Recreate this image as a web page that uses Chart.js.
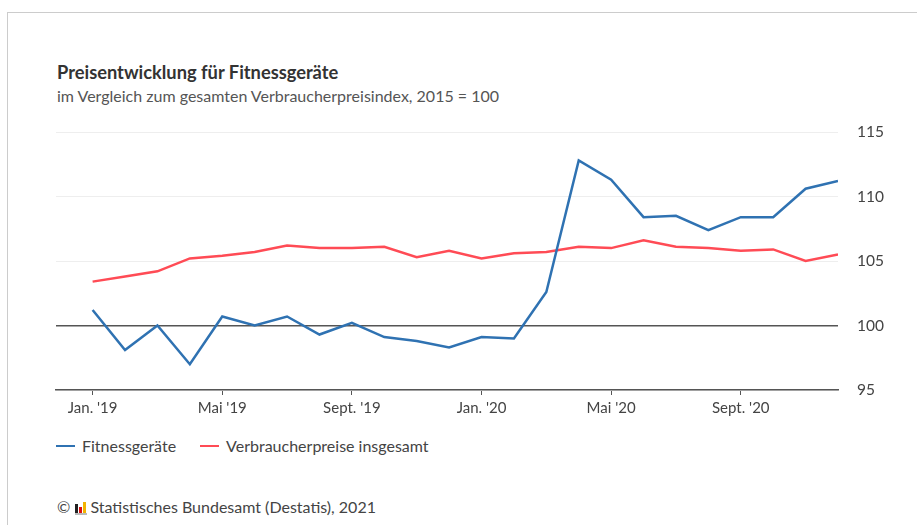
<!doctype html>
<html lang="de">
  <head>
    <meta charset="UTF-8" />
    <title>Preisentwicklung für Fitnessgeräte</title>
    <script src="https://cdn.jsdelivr.net/npm/chart.js"></script>
    <style>
      body { margin: 0; background: #fff; font-family: Lato, 'Open Sans', sans-serif; color: #444; }
      #frame { position: absolute; left: 7px; top: 12px; right: 0; bottom: 0; border-left: 1px solid #ccc; border-top: 1px solid #ccc; }
      #wrap { position: absolute; left: 0; top: 0; width: 917px; height: 525px; }
      h1 { position: absolute; left: 57px; top: 61px; margin: 0; font-size: 18.3px; font-weight: 700; color: #333; }
      .sub { position: absolute; left: 57px; top: 86px; margin: 0; font-size: 16px; color: #555; }
      #legend { position: absolute; left: 56px; top: 436px; font-size: 16px; color: #444; display: flex; }
      #legend span.item { display: flex; align-items: center; margin-right: 24px; }
      #legend span.sw { display: inline-block; width: 19px; height: 2px; margin-right: 7px; }
      .src { position: absolute; left: 57px; top: 497px; font-size: 16px; color: #444; }
      .logo { display: inline-flex; align-items: flex-end; height: 11px; border-bottom: 2px solid #bbb; margin: 0 3px 0 1px; }
      .logo i { display: inline-block; width: 3px; margin-right: 1px; }
      canvas { position: absolute; left: 0; top: 0; }
    </style>
  </head>
  <body>
    <div id="frame"></div>
    <div id="wrap">
      <h1>Preisentwicklung für Fitnessgeräte</h1>
      <p class="sub">im Vergleich zum gesamten Verbraucherpreisindex, 2015 = 100</p>
      <div id="legend"></div>
      <div class="src">© <span class="logo"><i style="height:9px;background:#222"></i><i style="height:6px;background:#d11"></i><i style="height:11px;background:#f2b400"></i></span>Statistisches Bundesamt (Destatis), 2021</div>
      <canvas id="myChart" width="917" height="525"></canvas>
    </div>
    <script>
      const months = ['Jan. \'19', 'Feb. \'19', 'März \'19', 'Apr. \'19', 'Mai \'19', 'Juni \'19', 'Juli \'19', 'Aug. \'19',
        'Sept. \'19', 'Okt. \'19', 'Nov. \'19', 'Dez. \'19', 'Jan. \'20', 'Feb. \'20', 'März \'20', 'Apr. \'20',
        'Mai \'20', 'Juni \'20', 'Juli \'20', 'Aug. \'20', 'Sept. \'20', 'Okt. \'20', 'Nov. \'20', 'Dez. \'20']

      const fitness = [101.2, 98.1, 100.0, 97.0, 100.7, 100.0, 100.7, 99.3, 100.2, 99.1, 98.8, 98.3,
        99.1, 99.0, 102.6, 112.8, 111.3, 108.4, 108.5, 107.4, 108.4, 108.4, 110.6, 111.2]

      const verbraucher = [103.4, 103.8, 104.2, 105.2, 105.4, 105.7, 106.2, 106.0, 106.0, 106.1, 105.3, 105.8,
        105.2, 105.6, 105.7, 106.1, 106.0, 106.6, 106.1, 106.0, 105.8, 105.9, 105.0, 105.5]

      const seriesNames = ['Fitnessgeräte', 'Verbraucherpreise insgesamt']
      const seriesColors = ['#2f72b2', '#ff4b55']

      // months that get an x tick label
      const labelledMonths = [0, 4, 8, 12, 16, 20]
      const yTicks = [95, 100, 105, 110, 115]

      const toPoints = (arr) => arr.map((v, i) => ({ x: i, y: v }))

      // legend as html
      const legend = document.getElementById('legend')
      seriesNames.forEach((name, i) => {
        const item = document.createElement('span')
        item.className = 'item'
        item.innerHTML = '<span class="sw" style="background:' + seriesColors[i] + '"></span>' + name
        legend.appendChild(item)
      })

      const ctx = document.getElementById('myChart').getContext('2d')

      new Chart(ctx, {
        type: 'line',
        data: {
          datasets: [
            { label: seriesNames[0], data: toPoints(fitness), borderColor: seriesColors[0], borderWidth: 2.5, pointRadius: 0, tension: 0 },
            { label: seriesNames[1], data: toPoints(verbraucher), borderColor: seriesColors[1], borderWidth: 2.5, pointRadius: 0, tension: 0 }
          ]
        },
        options: {
          responsive: false,
          animation: false,
          layout: { padding: { left: 56, top: 132, bottom: 95, right: 0 } },
          plugins: { legend: { display: false }, tooltip: { enabled: false } },
          scales: {
            x: {
              type: 'linear',
              min: -1.13,
              max: 23,
              afterBuildTicks: (scale) => { scale.ticks = labelledMonths.map((v) => ({ value: v })) },
              afterFit: (scale) => { scale.height = 40 },
              ticks: {
                callback: (value) => months[value],
                color: '#444',
                font: { family: 'Lato', size: 15 },
                padding: 4,
                maxRotation: 0,
                autoSkip: false
              },
              grid: { drawOnChartArea: false, drawTicks: true, tickLength: 5, color: '#555' },
              border: { display: true, color: '#555', width: 1.5 }
            },
            y: {
              position: 'right',
              min: 95,
              max: 115,
              afterBuildTicks: (scale) => { scale.ticks = yTicks.map((v) => ({ value: v })) },
              afterFit: (scale) => { scale.width = 79 },
              ticks: { color: '#444', font: { family: 'Lato', size: 15.5 }, padding: 19 },
              grid: {
                drawTicks: false,
                color: (c) => (c.tick && c.tick.value === 100 ? '#555' : '#eeeeee'),
                lineWidth: (c) => (c.tick && c.tick.value === 100 ? 1.5 : 1)
              },
              border: { display: false }
            }
          }
        }
      })
    </script>
  </body>
</html>
